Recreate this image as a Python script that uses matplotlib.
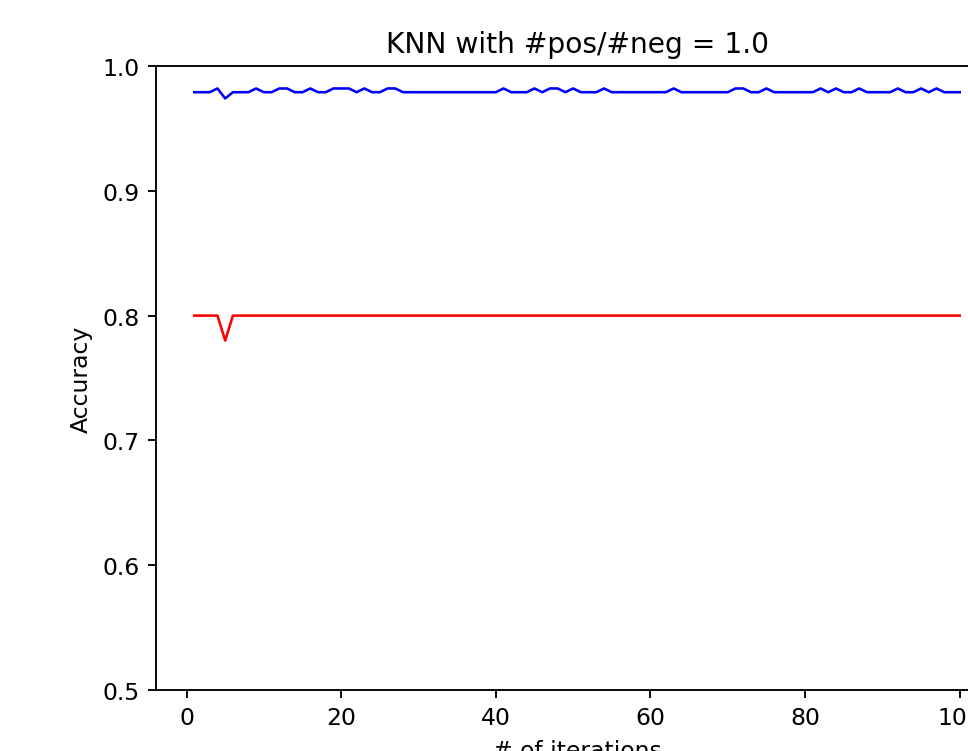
import numpy as np
from matplotlib import pyplot as plt

iterations = list(range(1, 101))

# accuracy per iteration (blue curve)
acc_blue = [0.979, 0.979, 0.979, 0.982, 0.974, 0.979, 0.979, 0.979, 0.982, 0.979,
            0.979, 0.982, 0.982, 0.979, 0.979, 0.982, 0.979, 0.979, 0.982, 0.982,
            0.982, 0.979, 0.982, 0.979, 0.979, 0.982, 0.982, 0.979, 0.979, 0.979,
            0.979, 0.979, 0.979, 0.979, 0.979, 0.979, 0.979, 0.979, 0.979, 0.979,
            0.982, 0.979, 0.979, 0.979, 0.982, 0.979, 0.982, 0.982, 0.979, 0.982,
            0.979, 0.979, 0.979, 0.982, 0.979, 0.979, 0.979, 0.979, 0.979, 0.979,
            0.979, 0.979, 0.982, 0.979, 0.979, 0.979, 0.979, 0.979, 0.979, 0.979,
            0.982, 0.982, 0.979, 0.979, 0.982, 0.979, 0.979, 0.979, 0.979, 0.979,
            0.979, 0.982, 0.979, 0.982, 0.979, 0.979, 0.982, 0.979, 0.979, 0.979,
            0.979, 0.982, 0.979, 0.979, 0.982, 0.979, 0.982, 0.979, 0.979, 0.979]

# accuracy per iteration (red curve)
acc_red = [0.8] * 100
acc_red[4] = 0.78

dpi = 169
fig = plt.figure(figsize=(968 / dpi, 752 / dpi), dpi=dpi)
ax = fig.add_axes([156 / 968, 61 / 752, 842 / 968, 624 / 752])

ax.plot(iterations, acc_blue, color='b', linewidth=1.1)
ax.plot(iterations, acc_red, color='r', linewidth=1.1)

ax.set_ylim(0.5, 1.0)
ax.set_title("KNN with #pos/#neg = 1.0")
ax.set_xlabel("# of iterations")
ax.set_ylabel("Accuracy")

fig.savefig("out.png", dpi=dpi)
